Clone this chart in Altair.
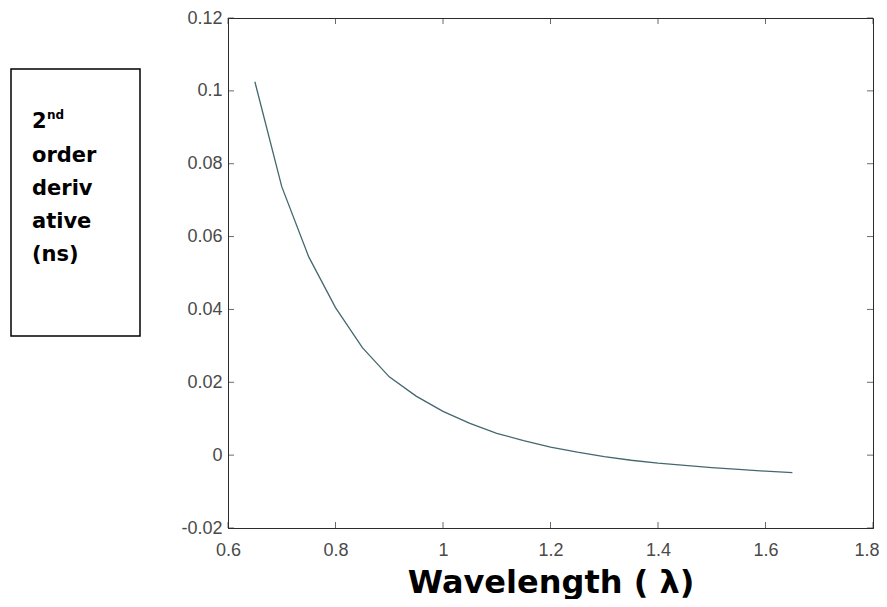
import altair as alt
import pandas as pd

# Data
wavelength = [0.65, 0.70, 0.75, 0.80, 0.85, 0.90, 0.95, 1.00, 1.05, 1.10, 1.15,
              1.20, 1.25, 1.30, 1.35, 1.40, 1.45, 1.50, 1.55, 1.60, 1.65]
second_deriv = [0.1025, 0.0737, 0.0545, 0.0405, 0.0295, 0.0215, 0.0162, 0.0120,
                0.0087, 0.0060, 0.0040, 0.0022, 0.0008, -0.0004, -0.0014, -0.0022,
                -0.0028, -0.0034, -0.0039, -0.0044, -0.0048]
x_ticks = [0.6, 0.8, 1.0, 1.2, 1.4, 1.6, 1.8]
y_ticks = [-0.02, 0.0, 0.02, 0.04, 0.06, 0.08, 0.1, 0.12]
label_lines = ["order", "deriv", "ative", "(ns)"]
x_title = "Wavelength ( λ)"

W, H = 645, 510
frame = "#2b2b2b"
label_color = "#4a4a4a"

df = pd.DataFrame({"wl": wavelength, "d2": second_deriv})
xt = pd.DataFrame({"t": x_ticks})
yt = pd.DataFrame({"t": y_ticks})
one = pd.DataFrame({"a": [0]})

xscale = alt.Scale(domain=[0.6, 1.8], nice=False, zero=False)
yscale = alt.Scale(domain=[-0.02, 0.12], nice=False, zero=False)
fmt = "datum.value < 0 ? '-' + format(-datum.value, '~g') : format(datum.value, '~g')"
last_x = "datum.value >= %s" % x_ticks[-1]

line = alt.Chart(df).mark_line(color="#44686f", strokeWidth=1.3).encode(
    x=alt.X("wl:Q", scale=xscale,
            axis=alt.Axis(values=x_ticks, labelExpr=fmt, title=x_title, grid=False,
                          ticks=False, labelPadding=13, labelFontSize=18, labelFlush=False,
                          labelAlign={"condition": {"test": last_x, "value": "right"}, "value": "center"},
                          labelOffset={"condition": {"test": last_x, "value": 6}, "value": 0},
                          labelFont="Liberation Sans", labelColor=label_color,
                          domainColor=frame, titleFont="DejaVu Sans", titleFontSize=32,
                          titleFontWeight="bold", titleColor="black", titlePadding=8)),
    y=alt.Y("d2:Q", scale=yscale,
            axis=alt.Axis(values=y_ticks, labelExpr=fmt, title=None, grid=False,
                          ticks=False, labelPadding=6, labelFontSize=18, labelFlush=False,
                          labelFont="Liberation Sans", labelColor=label_color,
                          domainColor=frame)),
)

tk = 6
tick_bottom = alt.Chart(xt).mark_tick(color=frame, thickness=1, size=tk, orient="vertical").encode(
    x=alt.X("t:Q", scale=xscale), y=alt.value(H - tk / 2))
tick_top = alt.Chart(xt).mark_tick(color=frame, thickness=1, size=tk, orient="vertical").encode(
    x=alt.X("t:Q", scale=xscale), y=alt.value(tk / 2))
tick_left = alt.Chart(yt).mark_tick(color=frame, thickness=1, size=tk, orient="horizontal").encode(
    y=alt.Y("t:Q", scale=yscale), x=alt.value(tk / 2))
tick_right = alt.Chart(yt).mark_tick(color=frame, thickness=1, size=tk, orient="horizontal").encode(
    y=alt.Y("t:Q", scale=yscale), x=alt.value(W - tk / 2))

box = alt.Chart(one).mark_rect(fill="white", stroke="black", strokeWidth=1.5, clip=False).encode(
    x=alt.value(-217), x2=alt.value(-88), y=alt.value(51), y2=alt.value(318))
two = alt.Chart(one).mark_text(font="DejaVu Sans", fontWeight="bold", fontSize=21,
                               align="left", baseline="alphabetic", color="black").encode(
    x=alt.value(-196), y=alt.value(110), text=alt.value("2"))
nd = alt.Chart(one).mark_text(font="DejaVu Sans", fontWeight="bold", fontSize=12,
                              align="left", baseline="alphabetic", color="black").encode(
    x=alt.value(-181), y=alt.value(101), text=alt.value("nd"))
body = alt.Chart(one).mark_text(font="DejaVu Sans", fontWeight="bold", fontSize=21,
                                align="left", baseline="alphabetic", color="black",
                                lineBreak="\n", lineHeight=33).encode(
    x=alt.value(-196), y=alt.value(144), text=alt.value("\n".join(label_lines)))

chart = alt.layer(box, two, nd, body, line, tick_bottom, tick_top, tick_left, tick_right).properties(
    width=W, height=H,
    autosize=alt.AutoSizeParams(type="none"),
    padding={"left": 220, "top": 10, "right": 6, "bottom": 71},
    background="white",
).configure_view(stroke=frame, strokeWidth=1)

chart.save("out.html", embed_options={"renderer": "svg", "actions": False})
